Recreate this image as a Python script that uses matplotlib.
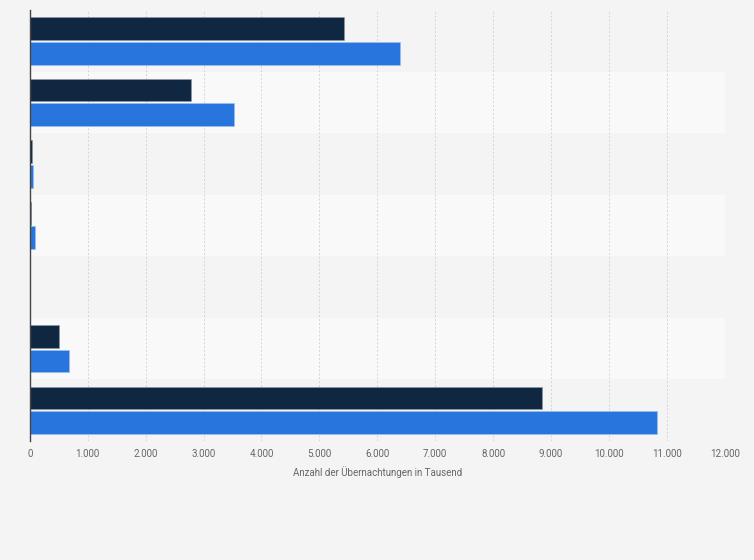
import numpy as np
import matplotlib.pyplot as plt

# ======================
# DATOS
# ======================
kategorien = ["", "", "", "", "", "", ""]
serie_dunkel = [5430, 2790, 45, 30, 0, 510, 8850]
serie_blau = [6400, 3530, 60, 95, 0, 685, 10820]
x_ticks = [0, 1000, 2000, 3000, 4000, 5000, 6000, 7000, 8000, 9000, 10000, 11000, 12000]
x_label = "Anzahl der Übernachtungen in Tausend"

FARBE_DUNKEL = "#0f2740"
FARBE_BLAU = "#2876dd"
HINTERGRUND = "#f4f4f4"

plt.rcParams["font.family"] = ["Roboto", "DejaVu Sans"]

fig = plt.figure(figsize=(7.54, 5.6), dpi=100, facecolor=HINTERGRUND)
ax = fig.add_axes([0.0394, 0.2125, 0.922, 0.7695])
ax.set_facecolor(HINTERGRUND)

y = np.arange(len(kategorien))
alto = 0.37

# bandas alternas
for i in y:
    if i % 2 == 1:
        ax.axhspan(i - 0.5, i + 0.5, color="#f9f9f9", zorder=0, lw=0)

ax.barh(y - 0.2, serie_dunkel, height=alto, color=FARBE_DUNKEL,
        edgecolor="#8c99a8", linewidth=0.4, zorder=3)
ax.barh(y + 0.2, serie_blau, height=alto, color=FARBE_BLAU,
        edgecolor="#9cc0ee", linewidth=0.4, zorder=3)

ax.set_ylim(len(kategorien) - 0.5, -0.5)
ax.set_xlim(0, 12000)
ax.set_yticks([])
ax.set_xticks(x_ticks)
ax.set_xticklabels([f"{v:,}".replace(",", ".") for v in x_ticks],
                   fontsize=7, color="#666666")
ax.tick_params(axis="x", length=0, pad=6)
ax.grid(axis="x", color="#d5d5d5", linestyle=(0, (2, 2)), linewidth=0.7, zorder=1)

for s in ["top", "right", "bottom"]:
    ax.spines[s].set_visible(False)
ax.spines["left"].set_color("#444444")
ax.spines["left"].set_linewidth(1.0)
ax.spines["left"].set_zorder(4)

ax.set_xlabel(x_label, fontsize=7, color="#666666", labelpad=5)

fig.savefig("out.png", dpi=100, facecolor=HINTERGRUND)
